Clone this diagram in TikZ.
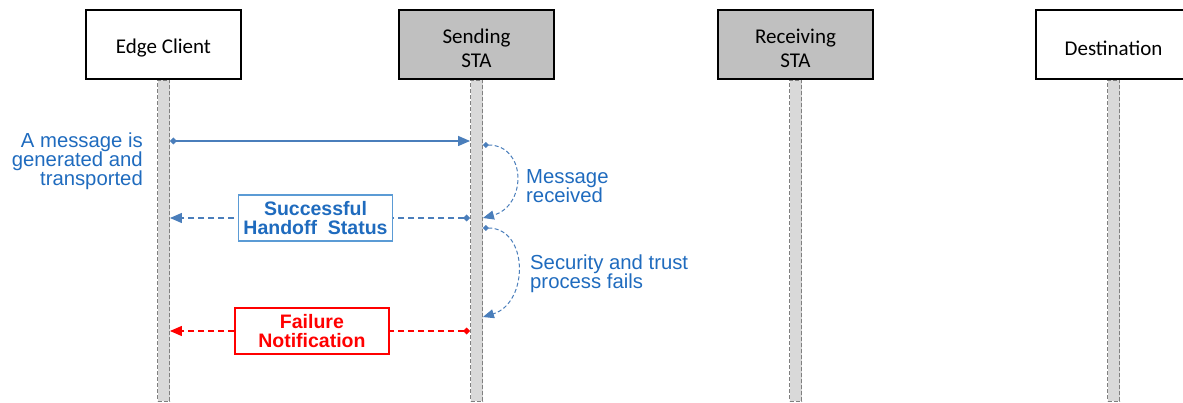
\documentclass[tikz,border=0pt]{standalone}
\usepackage{fontspec}
\setmainfont{Liberation Sans}
\newfontfamily\actorfont{Carlito}
\usetikzlibrary{arrows.meta}

\definecolor{msgblue}{HTML}{4A7EBB}
\definecolor{noteblue}{HTML}{1F6BBE}
\definecolor{boxblue}{HTML}{5B9BD5}
\definecolor{lifegray}{HTML}{D9D9D9}
\definecolor{stagray}{HTML}{C0C0C0}
\definecolor{failred}{HTML}{FF0000}

\begin{document}
\begin{tikzpicture}[x=1pt,y=-1pt,
    actor/.style={draw=black,line width=1.6pt,minimum width=155pt,minimum height=69pt,inner sep=0pt},
    actortext/.style={inner sep=0pt,align=center,yshift=-4pt,font=\actorfont\fontsize{21}{23.5}\selectfont},
    lifeline/.style={draw=gray,line width=0.9pt,dash pattern=on 4pt off 2pt,fill=lifegray,
      minimum width=12pt,minimum height=321pt,inner sep=0pt,anchor=north},
    msg/.style={draw=msgblue,line width=1.4pt,{Diamond[length=7pt,width=7pt]}-{Triangle[length=12pt,width=10pt]}},
    reply/.style={msg,dash pattern=on 6pt off 4pt},
    fail/.style={reply,draw=failred},
    self/.style={draw=msgblue,line width=1pt,dash pattern=on 4pt off 2.5pt,
      {Diamond[length=6pt,width=6pt]}-{Triangle[length=11pt,width=9pt]}},
    status/.style={solid,draw=boxblue,line width=1.3pt,fill=white,text=noteblue,align=center,
      minimum width=154pt,minimum height=46pt,inner sep=0pt,
      font=\bfseries\fontsize{19.5}{19.5}\selectfont},
    note/.style={text=noteblue,inner sep=0pt,font=\fontsize{20.3}{19}\selectfont}]
  \useasboundingbox (0,0) rectangle (1183,403);

  \node[actor] (ec) at (163.5,44.5) {};
  \node[actor,fill=stagray] (ss) at (476.5,44.5) {};
  \node[actor,fill=stagray] (rs) at (795.5,44.5) {};
  \node[actor] (ds) at (1113.5,44.5) {};
  \node[actortext] (ec-t) at (ec.center) {Edge Client};
  \node[actortext] (ss-t) at (ss.center) {Sending\\STA};
  \node[actortext] (rs-t) at (rs.center) {Receiving\\STA};
  \node[actortext] (ds-t) at (ds.center) {Destination};

  \node[lifeline] (ecl) at (ec.south) {};
  \node[lifeline] (ssl) at (ss.south) {};
  \node[lifeline] (rsl) at (rs.south) {};
  \node[lifeline] (dsl) at (ds.south) {};

  \coordinate (send-a) at (ecl.east |- 0,141);
  \coordinate (send-b) at (ssl.west |- 0,141);
  \coordinate (ok-a) at (ssl.west |- 0,218);
  \coordinate (ok-b) at (ecl.east |- 0,218);
  \coordinate (fail-a) at (ssl.west |- 0,331);
  \coordinate (fail-b) at (ecl.east |- 0,331);
  \coordinate (recv-a) at (ssl.east |- 0,145);
  \coordinate (recv-b) at (ssl.east |- 0,218);
  \coordinate (sec-a) at (ssl.east |- 0,228);
  \coordinate (sec-b) at (ssl.east |- 0,317);

  \draw[msg] (send-a) -- (send-b);
  \draw[reply] (ok-a) -- node[status,pos=0.515] (okbox) {Successful\\Handoff\ \ Status} (ok-b);
  \draw[fail] (fail-a) -- node[status,draw=failred,text=failred,pos=0.527] (failbox) {Failure\\Notification} (fail-b);

  \draw[self] (recv-a) .. controls +(44,0) and +(44,-12) .. (recv-b);
  \draw[self] (sec-a) .. controls +(46,0) and +(46,-14) .. (sec-b);

  \node[note,anchor=east,align=right] (gen) at (143,161) {A message is\\generated and\\transported};
  \node[note,anchor=west,align=left] (rcv) at (526,186) {Message\\received};
  \node[note,anchor=west,align=left] (sec) at (530,274) {Security and trust\\process fails};
\end{tikzpicture}
\end{document}
